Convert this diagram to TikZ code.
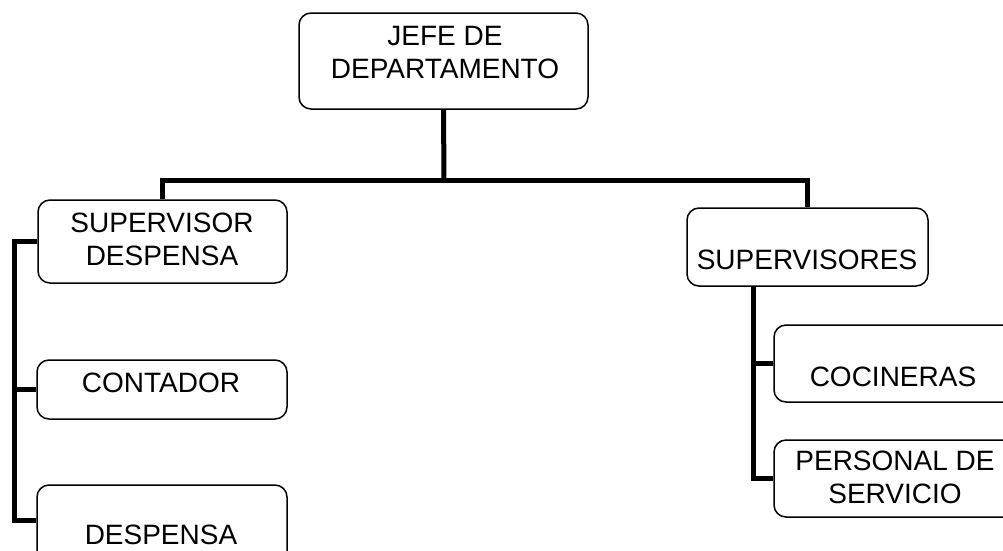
\documentclass[tikz,border=0pt]{standalone}
\usepackage{fontspec}
\setmainfont{Liberation Sans}
\begin{document}
\begin{tikzpicture}[x=1pt,y=-1pt,
  box/.style={draw=black, line width=1.5pt, rounded corners=12pt, fill=white, inner sep=0pt},
  txt/.style={inner sep=0pt, align=center, font=\fontsize{28}{33}\selectfont},
  conn/.style={draw=black, line width=5pt}]
\useasboundingbox (0,0) rectangle (1003,550);
\clip (0,0) rectangle (1003,550);
\fill[white] (0,0) rectangle (1003,550);
% boxes
\node[box, minimum width=289pt, minimum height=96pt] (jefe) at (443.5,61) {};
\node[box, minimum width=249pt, minimum height=83pt] (supdesp) at (162.5,241.5) {};
\node[box, minimum width=250pt, minimum height=59pt] (contador) at (162,389.5) {};
\node[box, minimum width=250pt, minimum height=80pt] (despensa) at (162,525) {};
\node[box, minimum width=241pt, minimum height=78pt] (supervisores) at (807.5,247) {};
\node[box, minimum width=260pt, minimum height=77pt] (cocineras) at (904,363.5) {};
\node[box, minimum width=260pt, minimum height=77pt] (personal) at (904,478.5) {};
% texts
\node[txt] (tjefe) at (445,52.5) {JEFE DE\\DEPARTAMENTO};
\node[txt] (tsupdesp) at (162,239) {SUPERVISOR\\DESPENSA};
\node[txt] (tcontador) at (161,382.5) {CONTADOR};
\node[txt] (tdespensa) at (161,535) {DESPENSA};
\node[txt] (tsupervisores) at (807,260) {SUPERVISORES};
\node[txt] (tcocineras) at (893,377) {COCINERAS};
\node[txt] (tpersonal) at (895,477.5) {PERSONAL DE\\SERVICIO};
% connector coordinates
\coordinate (bus) at (444,180);
\coordinate (lbot) at (14,520);
\coordinate (rb) at (753,478.5);
% connectors
\draw[conn] (jefe.south) -- (bus);
\draw[conn] (supdesp.north) |- (bus) -| (supervisores.north);
\draw[conn] (supdesp.west) -| (lbot) -- (lbot -| despensa.west);
\draw[conn] (contador.west) -- (contador.west -| lbot);
\draw[conn] (rb |- supervisores.south) -- (rb) -- (personal.west);
\draw[conn] (cocineras.west) -- (cocineras.west -| rb);
\end{tikzpicture}
\end{document}
